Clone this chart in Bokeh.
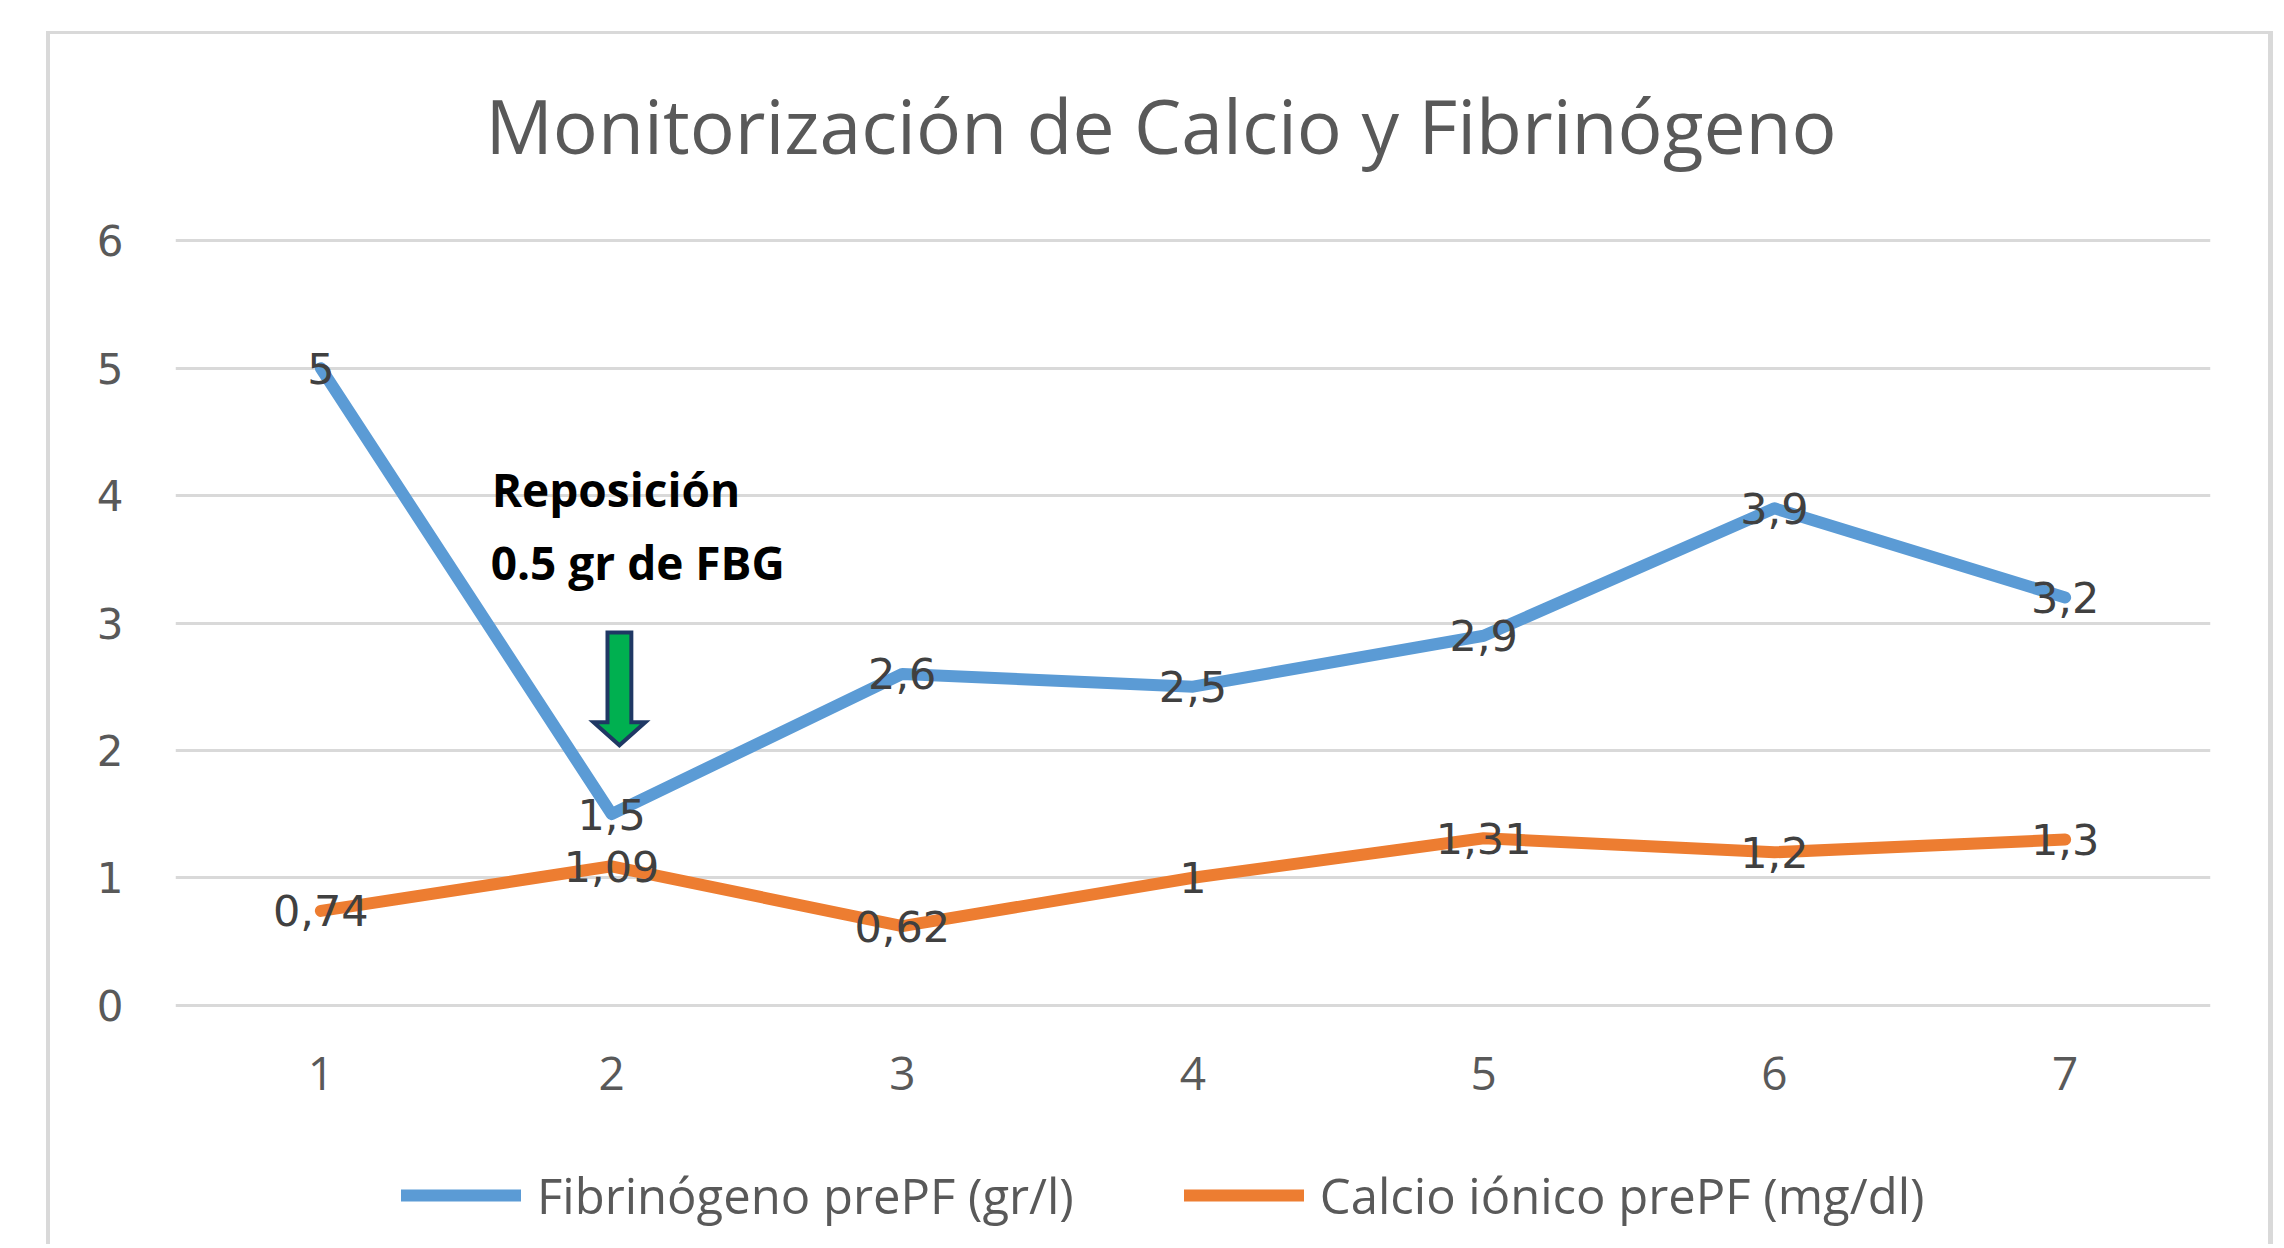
from bokeh.plotting import figure
from bokeh.layouts import column
from bokeh.models import (ColumnDataSource, Legend, LegendItem, FixedTicker, Range1d, Label)
from bokeh.core.properties import value
from bokeh.embed import file_html
from bokeh.resources import INLINE

# ---- data ----
categories = [1, 2, 3, 4, 5, 6, 7]
fibrinogeno = [5, 1.5, 2.6, 2.5, 2.9, 3.9, 3.2]
calcio = [0.74, 1.09, 0.62, 1, 1.31, 1.2, 1.3]
y_ticks = [0, 1, 2, 3, 4, 5, 6]
series_names = ["Fibrinógeno prePF (gr/l)", "Calcio iónico prePF (mg/dl)"]
title_text = "Monitorización de Calcio y Fibrinógeno"
note_lines = ["Reposición", "0.5 gr de FBG"]


def fmt(v):
    return str(v).replace(".", ",")


BLUE = "#5B9BD5"
ORANGE = "#ED7D31"
GRID = "#D9D9D9"
TXT = "#595959"
LBL = "#404040"

W = 2280
H_HEAD, H_MAIN, H_FOOT = 200, 930, 114

x_range = Range1d(0.5, 7.5)

# ---------------- header: title centred on the chart box ----------------
head = figure(width=W, height=H_HEAD, output_backend="svg", toolbar_location=None,
              x_range=x_range, y_range=Range1d(0, 1),
              x_axis_type=None, y_axis_type=None,
              min_border_left=175, min_border_right=W - 2210,
              min_border_top=0, min_border_bottom=0)
head.grid.visible = False
head.outline_line_color = None
head.background_fill_color = None
head.border_fill_color = None
TITLE_X = 3.89   # horizontal centre of the outer chart box, in category units
head.add_layout(Label(x=TITLE_X, y=0.38, text=title_text, text_align="center",
                      text_baseline="alphabetic", text_font="Open Sans",
                      text_font_size="75px", text_color=TXT))

# ---------------- main plot ----------------
p = figure(width=W, height=H_MAIN, output_backend="svg", toolbar_location=None,
           x_range=x_range, y_range=Range1d(-0.05, 6.05),
           min_border_left=175, min_border_right=W - 2210,
           min_border_top=34, min_border_bottom=119)
p.background_fill_color = "white"
p.border_fill_color = None
p.outline_line_color = None

p.xaxis.ticker = FixedTicker(ticks=categories)
p.yaxis.ticker = FixedTicker(ticks=y_ticks)
for ax in (p.xaxis[0], p.yaxis[0]):
    ax.axis_line_color = None
    ax.major_tick_line_color = None
    ax.minor_tick_line_color = None
    ax.major_label_text_color = TXT
p.xaxis.major_label_text_font = "Open Sans"
p.xaxis.major_label_text_font_size = "46px"
p.xaxis.major_label_standoff = 39
p.yaxis.major_label_text_font = "DejaVu Sans"
p.yaxis.major_label_text_font_size = "42px"
p.yaxis.major_label_standoff = 46

p.xgrid.grid_line_color = None
p.ygrid.grid_line_color = GRID
p.ygrid.grid_line_width = 3

src = ColumnDataSource(dict(
    x=categories, fib=fibrinogeno, ca=calcio,
    fib_lbl=[fmt(v) for v in fibrinogeno],
    ca_lbl=[fmt(v) for v in calcio],
))

line_styles = [dict(line_color=BLUE, line_width=12, line_cap="round", line_join="round"),
               dict(line_color=ORANGE, line_width=12, line_cap="round", line_join="round")]

p.line("x", "fib", source=src, **line_styles[0])
p.line("x", "ca", source=src, **line_styles[1])

for col, ycol in (("fib_lbl", "fib"), ("ca_lbl", "ca")):
    p.text("x", ycol, text=col, source=src, text_align="center",
           text_baseline="middle", text_font=value("DejaVu Sans"),
           text_font_size="43px", text_color=LBL)

# annotation: text + arrow
NOTE_X = 2.045
p.add_layout(Label(x=NOTE_X - 0.03, y=4.05, text=note_lines[0], text_align="center",
                   text_baseline="middle", text_font="Open Sans", text_font_style="bold",
                   text_font_size="46px", text_color="black"))
p.add_layout(Label(x=NOTE_X + 0.045, y=3.48, text=note_lines[1], text_align="center",
                   text_baseline="middle", text_font="Open Sans", text_font_style="bold",
                   text_font_size="46px", text_color="black"))

AX, A_TOP, A_BASE, A_TIP = 2.027, 2.925, 2.22, 2.04
SW, HW = 0.041, 0.089
p.patch([AX - SW, AX + SW, AX + SW, AX + HW, AX, AX - HW, AX - SW],
        [A_TOP, A_TOP, A_BASE, A_BASE, A_TIP, A_BASE, A_BASE],
        fill_color="#00B050", line_color="#1F3864", line_width=4,
        line_join="miter")

# ---------------- footer: legend ----------------
# the series are drawn again here outside the visible x range, only so that the
# legend has renderers with the same line styles
foot = figure(width=W, height=H_FOOT, output_backend="svg", toolbar_location=None,
              x_range=Range1d(-2, -1), y_range=Range1d(0, 1),
              x_axis_type=None, y_axis_type=None,
              min_border_left=175, min_border_right=W - 2210,
              min_border_top=20, min_border_bottom=0)
foot.grid.visible = False
foot.outline_line_color = None
foot.background_fill_color = None
foot.border_fill_color = None
lr1 = foot.line("x", "fib", source=src, **line_styles[0])
lr2 = foot.line("x", "ca", source=src, **line_styles[1])
legend = Legend(items=[LegendItem(label=series_names[0], renderers=[lr1]),
                       LegendItem(label=series_names[1], renderers=[lr2])],
                orientation="horizontal", location=(226, 16),
                label_text_font="Open Sans", label_text_font_size="49px",
                label_text_color=TXT, glyph_width=120, glyph_height=40,
                label_standoff=16, spacing=110, padding=0, margin=0,
                border_line_color=None, background_fill_color=None)
foot.add_layout(legend, "center")

# outer chart border drawn as CSS background lines (open at the bottom)
border_css = {
    "background-image": ", ".join(["linear-gradient(#D9D9D9, #D9D9D9)"] * 3),
    "background-position": "46px 31px, 46px 31px, 2268px 31px",
    "background-size": "4px 100%, 2227px 3px, 5px 100%",
    "background-repeat": "no-repeat",
    "background-color": "white",
}
layout = column(head, p, foot, spacing=0, styles=border_css)

open("out.html", "w").write(file_html(layout, INLINE))
